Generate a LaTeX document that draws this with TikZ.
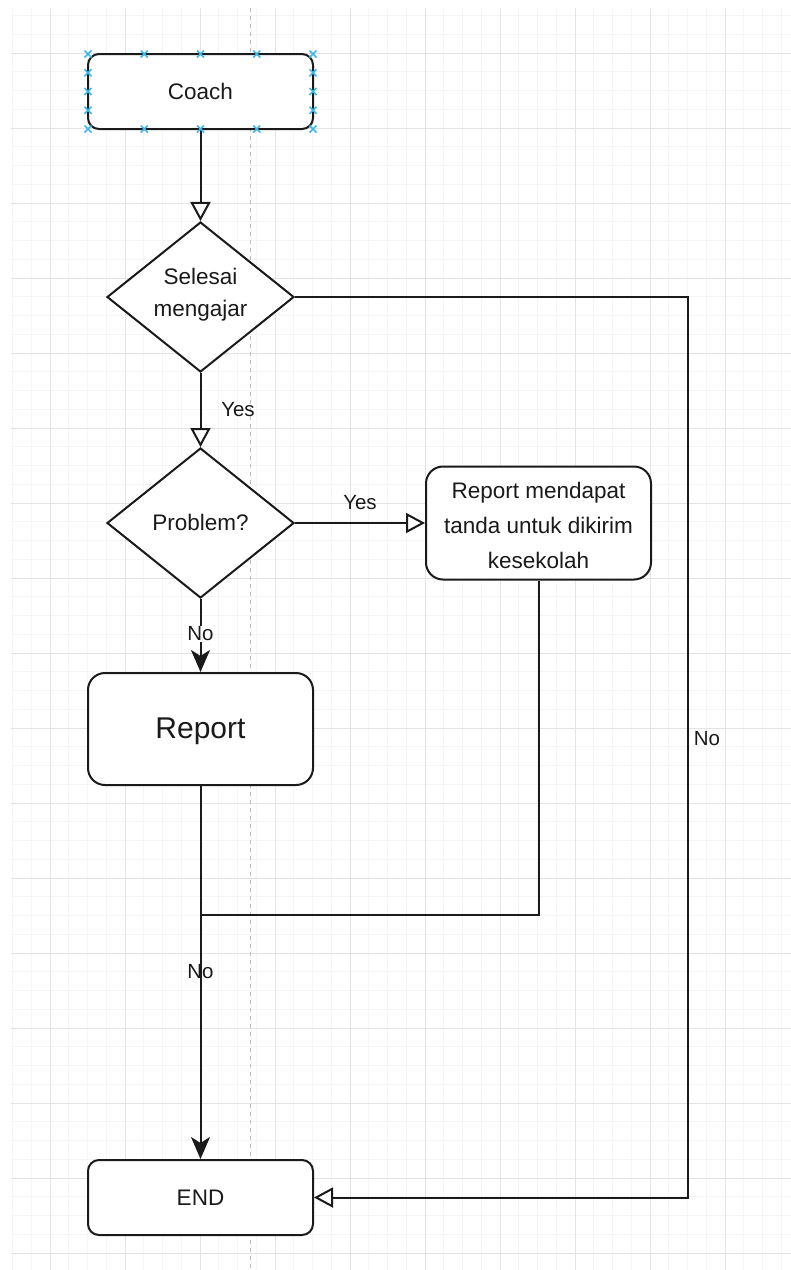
\documentclass[tikz,border=0pt]{standalone}
\usepackage{fontspec}
\setmainfont{Liberation Sans}
\usetikzlibrary{shapes.geometric,arrows.meta}
\definecolor{minorc}{HTML}{F5F5F5}
\definecolor{majorc}{HTML}{E3E3E3}
\definecolor{pagec}{HTML}{BDBDBD}
\definecolor{selc}{HTML}{3DB8EC}
\definecolor{ink}{HTML}{1A1A1A}
\newcommand\mainfs{\fontsize{22.5pt}{27pt}\selectfont}
\newcommand\lblfs{\fontsize{20.5pt}{24pt}\selectfont}
\newcommand\bigfs{\fontsize{30pt}{36pt}\selectfont}
\tikzset{
  box/.style={draw=ink, line width=2pt, rounded corners=#1, fill=white,
    minimum width=225pt, inner sep=0pt, text=ink, font=\mainfs},
  box/.default=11pt,
  dia/.style={diamond, draw=ink, line width=2pt, fill=white,
    minimum width=187pt, minimum height=150pt, inner sep=0pt},
  txt/.style={text=ink, align=center, inner sep=0pt},
  lbl/.style={text=ink, font=\lblfs, inner sep=1pt},
  conn/.style={draw=ink, line width=2pt},
  openarr/.style={conn, -{Triangle[length=19pt, width=20pt, fill=white, line width=2pt]}},
  fillarr/.style={conn, -{Stealth[length=22pt, width=19pt, inset=6pt]}},
  minorgrid/.style={draw=minorc, line width=1pt},
  majorgrid/.style={draw=majorc, line width=1pt},
  pageline/.style={draw=pagec, line width=1pt, dash pattern=on 4pt off 4pt},
  selx/.style={draw=selc, line width=1.6pt}
}
\begin{document}
\begin{tikzpicture}[x=1pt, y=-1pt]
  \useasboundingbox (0,0) rectangle (791,1270);
  \fill[white] (0,0) rectangle (791,1270);
  % grid
  \foreach \i in {0,...,41} \draw[minorgrid] ({12.5+18.75*\i},8) -- ({12.5+18.75*\i},1270);
  \foreach \j in {0,...,66} \draw[minorgrid] (11,{15.5+18.75*\j}) -- (791,{15.5+18.75*\j});
  \foreach \i in {0,...,9} \draw[majorgrid] ({50+75*\i},8) -- ({50+75*\i},1270);
  \foreach \j in {0,...,16} \draw[majorgrid] (11,{53+75*\j}) -- (791,{53+75*\j});
  \draw[pageline] (250,8) -- (250,1270);

  % nodes
  \node[box] (coach) at (200.5,91.5) [minimum height=75pt] {Coach};
  \node[dia] (sel) at (200.5,297) {};
  \node[txt, font=\fontsize{22.5pt}{32pt}\selectfont] (selt) at (200.5,295) {Selesai\\mengajar};
  \node[dia] (prob) at (200.5,523) {};
  \node[txt, font=\mainfs] (probt) at (200.5,522) {Problem?};
  \node[box=17pt, minimum height=113pt] (rep2) at (538.5,523) {};
  \node[txt, font=\fontsize{22.5pt}{35pt}\selectfont] (rep2t) at (538.5,525) {Report mendapat\\tanda untuk dikirim\\kesekolah};
  \node[box=17pt, minimum height=112pt] (report) at (200.5,729) {};
  \node[txt, font=\bigfs] (reportt) at (200.5,731) {Report};
  \node[box, minimum height=75pt] (endbox) at (200.5,1197.5) {END};

  \coordinate (rc) at (688,297);
  \coordinate (join) at (200.5,915);

  % connectors
  \draw[openarr] (coach) -- (sel);
  \draw[openarr] (sel.south) -- (prob.north);
  \node[lbl] (yes1) at (238,410) {Yes};
  \draw[openarr] (prob.east) -- (prob.east -| rep2.west);
  \node[lbl] (yes2) at (360,503) {Yes};
  \draw[fillarr] (prob.south) -- (report.north);
  \node[lbl, fill=white] (no1) at (200.5,634) {No};
  \draw[openarr] (sel.east) -- (rc) |- (endbox.east);
  \node[lbl] (no2) at (707,739) {No};
  \draw[conn] (rep2.south) |- (join);
  \draw[fillarr] (report.south) -- (endbox.north);
  \node[lbl] (no3) at (200.5,972) {No};

  % selection markers on Coach
  \foreach \x in {88,144.25,200.5,256.75,313} {
    \foreach \y in {54,129} {
      \draw[selx] (\x-3.5,\y-3.5) -- (\x+3.5,\y+3.5) (\x-3.5,\y+3.5) -- (\x+3.5,\y-3.5);
    }
  }
  \foreach \x in {88,313} {
    \foreach \y in {72.75,91.5,110.25} {
      \draw[selx] (\x-3.5,\y-3.5) -- (\x+3.5,\y+3.5) (\x-3.5,\y+3.5) -- (\x+3.5,\y-3.5);
    }
  }
\end{tikzpicture}
\end{document}
